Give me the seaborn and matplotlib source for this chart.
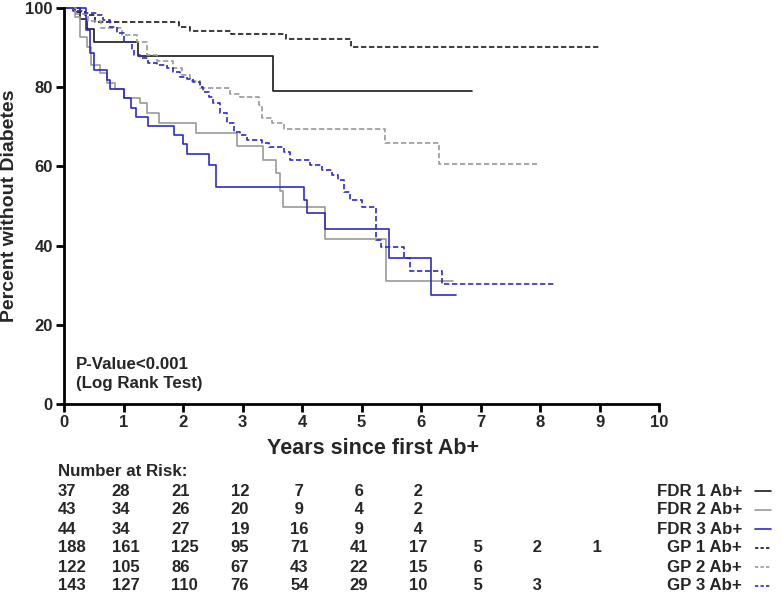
import pandas as pd
import matplotlib.pyplot as plt
import matplotlib.transforms as mtransforms
from matplotlib.lines import Line2D
import seaborn as sns

# survival curves (years since first Ab+, percent without diabetes)
fdr1_t = [0, 0.27, 0.39, 0.51, 1.24, 3.51, 6.86]
fdr1_s = [100, 97.1, 94.7, 91.5, 87.9, 79.1, 79.1]

fdr2_t = [0, 0.19, 0.27, 0.39, 0.45, 0.61, 0.73, 0.86, 1.01, 1.28, 1.39, 1.60, 2.22, 2.90,
          3.34, 3.57, 3.63, 3.68, 4.39, 5.42, 6.54]
fdr2_s = [100, 97.7, 92.7, 90.2, 85.6, 83.5, 81.1, 79.5, 77.2, 75.9, 73.4, 71.0, 68.4, 65.2,
          61.6, 58.3, 53.9, 49.8, 41.6, 31.1, 31.1]

fdr3_t = [0, 0.37, 0.44, 0.51, 0.73, 0.78, 1.01, 1.12, 1.21, 1.42, 1.85, 2.0, 2.07, 2.44,
          2.56, 4.03, 4.09, 4.39, 5.46, 6.17, 6.59]
fdr3_s = [100, 94.4, 88.6, 84.3, 81.8, 79.5, 77.2, 74.7, 72.6, 70.2, 67.9, 65.7, 63.1, 60.4,
          54.9, 51.5, 48.2, 44.2, 36.8, 27.5, 27.5]

gp1_t = [0, 0.19, 0.35, 0.52, 1.93, 2.12, 2.80, 3.73, 4.82, 9.0]
gp1_s = [100, 99.0, 98.2, 96.5, 95.3, 94.3, 93.5, 92.2, 90.1, 90.1]

gp2_t = [0, 0.2, 0.40, 0.62, 0.97, 1.22, 1.39, 1.56, 1.84, 1.98, 2.12, 2.29, 2.79, 2.96,
         3.27, 3.33, 3.49, 3.69, 5.40, 6.30, 7.95]
gp2_s = [100, 98.5, 96.8, 95.0, 93.2, 91.5, 88.1, 86.7, 84.8, 83.1, 81.5, 79.7, 78.4, 77.4,
         75.5, 72.1, 70.9, 69.4, 66.0, 60.5, 60.5]

gp3_t = [0, 0.15, 0.35, 0.55, 0.66, 0.77, 0.89, 1.0, 1.14, 1.17, 1.28, 1.42, 1.56, 1.73,
         1.84, 1.95, 2.06, 2.17, 2.29, 2.34, 2.43, 2.51, 2.62, 2.74, 2.85, 2.96, 3.07, 3.33,
         3.44, 3.69, 3.80, 4.14, 4.33, 4.50, 4.61, 4.70, 4.81, 5.01, 5.25, 5.32, 5.72, 5.82,
         6.35, 8.23]
gp3_s = [100, 99.3, 98.8, 98.2, 97.0, 95.3, 93.6, 91.5, 89.4, 88.1, 87.3, 86.0, 85.6, 84.8,
         83.9, 82.7, 82.0, 81.4, 80.1, 78.9, 77.6, 75.9, 73.4, 70.9, 68.8, 67.9, 66.7, 65.8,
         65.0, 63.7, 61.6, 60.4, 59.1, 57.8, 56.6, 53.6, 51.5, 49.8, 41.4, 39.7, 36.8, 33.7,
         30.3, 30.3]

# number at risk
fdr1_risk = [37, 28, 21, 12, 7, 6, 2]
fdr2_risk = [43, 34, 26, 20, 9, 4, 2]
fdr3_risk = [44, 34, 27, 19, 16, 9, 4]
gp1_risk = [188, 161, 125, 95, 71, 41, 17, 5, 2, 1]
gp2_risk = [122, 105, 86, 67, 43, 22, 15, 6]
gp3_risk = [143, 127, 110, 76, 54, 29, 10, 5, 3]

labels = ['FDR 1 Ab+', 'FDR 2 Ab+', 'FDR 3 Ab+', 'GP 1 Ab+', 'GP 2 Ab+', 'GP 3 Ab+']
years = list(range(11))
yticks = [0, 20, 40, 60, 80, 100]

sns.set_style('ticks')
plt.rcParams['font.family'] = ['Liberation Sans', 'DejaVu Sans']
plt.rcParams['font.weight'] = 'bold'

BLACK = '#1a1a1a'
GRAY = '#9a9a9a'
BLUE = '#2c2cc4'
DASH = (0, (3.2, 1.6))
styles = [(BLACK, '-'), (GRAY, '-'), (BLUE, '-'), (BLACK, DASH), (GRAY, DASH), (BLUE, DASH)]

curves = [(fdr1_t, fdr1_s), (fdr2_t, fdr2_s), (fdr3_t, fdr3_s),
          (gp1_t, gp1_s), (gp2_t, gp2_s), (gp3_t, gp3_s)]
risks = [fdr1_risk, fdr2_risk, fdr3_risk, gp1_risk, gp2_risk, gp3_risk]

fig = plt.figure(figsize=(7.82, 5.92), dpi=100)
W, H = 782, 592
ax = fig.add_axes([64 / W, 1 - 404 / H, (659 - 64) / W, (404 - 8) / H])

for lab, (t, s), (col, ls) in zip(labels, curves, styles):
    df = pd.DataFrame({'t': t, 's': s})
    sns.lineplot(data=df, x='t', y='s', ax=ax, color=col, linestyle=ls, lw=1.2,
                 drawstyle='steps-post', sort=False, estimator=None, clip_on=False)

ax.set_xlim(0, 10)
ax.set_ylim(0, 100)
ax.set_xticks(years)
ax.set_xticklabels([str(v) for v in years], fontsize=12, fontweight='bold')
ax.set_yticks(yticks)
ax.set_yticklabels([str(v) for v in yticks], fontsize=12, fontweight='bold')
sns.despine(ax=ax)
for sp in ['left', 'bottom']:
    ax.spines[sp].set_linewidth(2.0)
    ax.spines[sp].set_color('black')
ax.tick_params(width=2.0, length=5.5, color='black', pad=2.5)
ax.set_xlabel('Years since first Ab+', fontsize=15.5, fontweight='bold', labelpad=3)
ax.xaxis.set_label_coords(0.519, -0.085)
ax.set_ylabel('Percent without Diabetes', fontsize=14, fontweight='bold', labelpad=5)

ax.text(0.2, 7.6, 'P-Value<0.001\n(Log Rank Test)', fontsize=12.2, fontweight='bold',
        va='center', ha='left', linespacing=1.3)

# number at risk table
trans = mtransforms.blended_transform_factory(ax.transData, fig.transFigure)
fig.text(58 / W, 1 - 472 / H, 'Number at Risk:', fontsize=12.2, fontweight='bold', va='center')
row_y = [491, 510, 529, 548, 567, 586]
for r, (vals, py) in enumerate(zip(risks, row_y)):
    for i, v in enumerate(vals):
        txt = str(v) if v >= 10 else ' ' + str(v)
        xpos = years[i] - (0.1 if i == 0 else 0.2)
        ax.text(xpos, 1 - py / H, txt, transform=trans, fontsize=12, fontweight='bold',
                ha='left', va='center', clip_on=False)
    fig.text(742 / W, 1 - py / H, labels[r], fontsize=12.2, fontweight='bold',
             ha='right', va='center')
    col, ls = styles[r]
    leg_ls = ls if ls == '-' else (0, (2.0, 1.3))
    fig.add_artist(Line2D([755 / W, 771 / W], [1 - py / H, 1 - py / H], color=col,
                          linestyle=leg_ls, lw=1.2, transform=fig.transFigure))

fig.savefig('out.png', dpi=100)
